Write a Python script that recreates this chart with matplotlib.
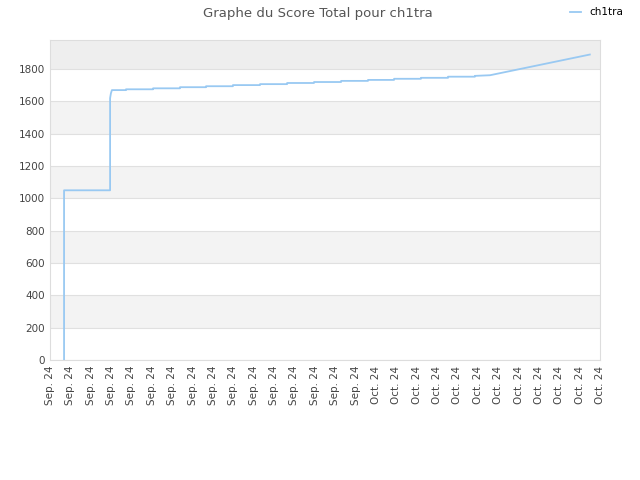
import matplotlib
matplotlib.use("Agg")
import matplotlib.pyplot as plt

# tick labels (one per day slot)
tickLabels = ["Sep. 24"] * 16 + ["Oct. 24"] * 12

# score points, x in day-slot units (0 = first tick)
scoreX = [0.69, 0.69, 2.95, 2.95, 2.99, 3.04,
          3.73, 3.73, 5.06, 5.06, 6.38, 6.38, 7.66, 7.66, 8.98, 8.98,
          10.31, 10.31, 11.64, 11.64, 12.96, 12.96, 14.29, 14.29,
          15.61, 15.61, 16.89, 16.89, 18.21, 18.21, 19.54, 19.54,
          20.86, 20.86, 21.6, 26.5]
scoreY = [0, 1050, 1050, 1620, 1650, 1670,
          1670, 1675, 1675, 1681, 1681, 1688, 1688, 1694, 1694, 1701,
          1701, 1707, 1707, 1714, 1714, 1720, 1720, 1727,
          1727, 1733, 1733, 1740, 1740, 1746, 1746, 1753,
          1753, 1758, 1762, 1890]

fig = plt.figure(figsize=(6.4, 4.8), dpi=100)
ax = fig.add_axes([50 / 640, 120 / 480, 550 / 640, 320 / 480])

yMax = 1980
# alternating bands
for i, lo in enumerate(range(0, 2000, 200)):
    hi = min(lo + 200, yMax)
    if lo >= 1800:
        ax.axhspan(lo, hi, color="#eeeeee", zorder=0, lw=0)
    elif i % 2 == 1:
        ax.axhspan(lo, hi, color="#f3f3f3", zorder=0, lw=0)
    ax.axhline(lo, color="#e0e0e0", lw=0.8, zorder=1)

ax.plot(scoreX, scoreY, color="#99c9f2", lw=1.3, label="ch1tra", zorder=3)

ax.set_xlim(0, len(tickLabels) - 1)
ax.set_ylim(0, yMax)
ax.set_xticks(range(len(tickLabels)))
ax.set_xticklabels(tickLabels, rotation=90, fontsize=7.5, color="#444444")
ax.set_yticks(range(0, 2000, 200))
ax.tick_params(axis="y", labelsize=7.5, colors="#444444", length=0)
ax.tick_params(axis="x", length=0, pad=4)
for s in ax.spines.values():
    s.set_color("#dddddd")

fig.text(0.497, 0.972, "Graphe du Score Total pour ch1tra", ha="center", va="center",
         fontsize=9.5, color="#555555")
fig.legend(loc="upper right", bbox_to_anchor=(0.985, 1.0), frameon=False, fontsize=7.5,
           handlelength=1.0, borderaxespad=0.3)

fig.savefig("out.png", dpi=100)
